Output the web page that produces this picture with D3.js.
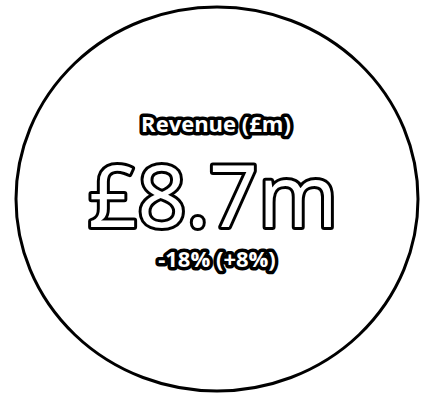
<!DOCTYPE html>
<html>
<head>
<meta charset="utf-8">
<script src="https://cdn.jsdelivr.net/npm/d3@7"></script>
<style>
  body { margin: 0; background: #fff; }
  text { font-family: "Open Sans", sans-serif; paint-order: stroke; stroke-linejoin: round; }
</style>
</head>
<body>
<div id="chart"></div>
<script>
const width = 421;
const height = 394;

const titles = ['Revenue (£m)'];
const values = [8.7];
const changes = [-18];
const priorChanges = [8];

const cx = 217;
const cy = 199;

const svg = d3.select('#chart')
  .append('svg')
  .attr('width', width)
  .attr('height', height);

svg.append('ellipse')
  .attr('cx', cx)
  .attr('cy', cy)
  .attr('rx', 201)
  .attr('ry', 192)
  .attr('fill', 'none')
  .attr('stroke', '#000')
  .attr('stroke-width', 3);

const fmtPct = function(v) { return (v > 0 ? '+' : '') + v + '%'; };

svg.append('text')
  .attr('x', cx - 1)
  .attr('y', 132)
  .attr('text-anchor', 'middle')
  .attr('font-size', 22)
  .attr('font-weight', 700)
  .attr('fill', '#fff')
  .attr('stroke', '#000')
  .attr('stroke-width', 7)
  .text(titles[0]);

svg.append('text')
  .attr('x', cx - 4)
  .attr('y', 227)
  .attr('text-anchor', 'middle')
  .attr('font-size', 86)
  .attr('font-weight', 500)
  .attr('fill', '#fff')
  .attr('stroke', '#000')
  .attr('stroke-width', 6)
  .text('£' + values[0] + 'm');

svg.append('text')
  .attr('x', cx)
  .attr('y', 267)
  .attr('text-anchor', 'middle')
  .attr('font-size', 22)
  .attr('font-weight', 700)
  .attr('fill', '#fff')
  .attr('stroke', '#000')
  .attr('stroke-width', 7)
  .text(fmtPct(changes[0]) + ' (' + fmtPct(priorChanges[0]) + ')');
</script>
</body>
</html>
